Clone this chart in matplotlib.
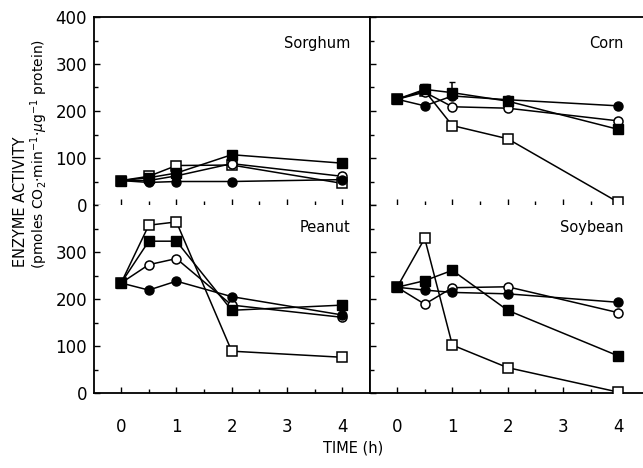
import matplotlib
matplotlib.use("Agg")
import matplotlib.pyplot as plt
from matplotlib.ticker import MultipleLocator

plt.rcParams['font.family'] = ['DejaVu Sans']

time = [0, 0.5, 1, 2, 4]

# Sorghum
sorghum_fc = [52, 48, 50, 50, 54]
sorghum_oc = [52, 52, 62, 88, 61]
sorghum_fs = [52, 58, 68, 107, 89]
sorghum_os = [52, 61, 84, 85, 46]

# Corn
corn_fc = [225, 211, 232, 224, 211]
corn_oc = [225, 240, 209, 206, 179]
corn_fs = [225, 246, 239, 221, 161]
corn_os = [225, 243, 169, 141, 6]
corn_fs_err = [0, 12, 22, 0, 0]

# Peanut
peanut_fc = [234, 219, 238, 205, 166]
peanut_oc = [234, 273, 286, 187, 161]
peanut_fs = [234, 323, 323, 176, 187]
peanut_os = [234, 357, 364, 89, 76]

# Soybean
soy_fc = [225, 219, 214, 211, 193]
soy_oc = [225, 189, 224, 226, 171]
soy_fs = [225, 239, 261, 176, 79]
soy_os = [225, 329, 102, 54, 2]

panels = [
    ("Sorghum", sorghum_fc, sorghum_oc, sorghum_fs, sorghum_os, None),
    ("Corn", corn_fc, corn_oc, corn_fs, corn_os, corn_fs_err),
    ("Peanut", peanut_fc, peanut_oc, peanut_fs, peanut_os, None),
    ("Soybean", soy_fc, soy_oc, soy_fs, soy_os, None),
]

W, H = 643, 468
fig = plt.figure(figsize=(W / 100, H / 100), dpi=100)

def ax_at(x0, y0, x1, y1):
    return fig.add_axes([x0 / W, 1 - y1 / H, (x1 - x0) / W, (y1 - y0) / H])

axes = [
    ax_at(94, 17, 370, 205),
    ax_at(370, 17, 643, 205),
    ax_at(94, 205, 370, 393),
    ax_at(370, 205, 643, 393),
]

for i, (ax, (name, fc, oc, fs, os_, err)) in enumerate(zip(axes, panels)):
    left = i % 2 == 0
    bottom = i >= 2
    ms = 6.5
    lw = 1.1
    ax.plot(time, os_, '-', color='black', lw=lw, marker='s', ms=ms,
            mfc='white', mec='black', mew=1.1, zorder=3)
    ax.plot(time, oc, '-', color='black', lw=lw, marker='o', ms=ms,
            mfc='white', mec='black', mew=1.1, zorder=3)
    ax.plot(time, fc, '-', color='black', lw=lw, marker='o', ms=ms,
            mfc='black', mec='black', zorder=4)
    if err is not None:
        ax.errorbar(time, fs, yerr=[[0] * len(err), err], fmt='-', color='black',
                    lw=lw, marker='s', ms=ms, mfc='black', mec='black',
                    capsize=2.5, elinewidth=1.1, zorder=5)
    else:
        ax.plot(time, fs, '-', color='black', lw=lw, marker='s', ms=ms,
                mfc='black', mec='black', zorder=5)

    ax.set_ylim(0, 400)
    if left:
        ax.set_xlim(-0.49, 4.5)
    else:
        ax.set_xlim(-0.49, 4.45)
    ax.xaxis.set_major_locator(MultipleLocator(1))
    ax.xaxis.set_minor_locator(MultipleLocator(0.5))
    ax.yaxis.set_major_locator(MultipleLocator(100))
    ax.yaxis.set_minor_locator(MultipleLocator(50))
    ax.tick_params(which='both', direction='in', top=False, right=False,
                   width=1.0, labelsize=12)
    ax.tick_params(which='major', length=4)
    ax.tick_params(which='minor', length=3)
    ax.tick_params(axis='x', pad=18)
    for s in ax.spines.values():
        s.set_linewidth(1.3)
    ax.spines['right'].set_visible(left)
    if not bottom:
        ax.tick_params(axis='x', labelbottom=False)
        ax.spines['bottom'].set_visible(False)
    else:
        ax.spines['top'].set_visible(False)
    if left:
        if bottom:
            ax.set_yticks([0, 100, 200, 300])
            ax.yaxis.set_minor_locator(MultipleLocator(50))
        ax.tick_params(axis='y', pad=5)
    else:
        ax.tick_params(axis='y', labelleft=False)
    ax.text(0.93, 0.86 if not bottom else 0.88, name, transform=ax.transAxes,
            ha='right', va='center', fontsize=10.5)

fig.text(21 / W, 1 - 267 / H, "ENZYME ACTIVITY", rotation=90, ha='center',
         va='bottom', fontsize=10.5)
fig.text(39 / W, 1 - 269 / H,
         r"(pmoles CO$_2$$\cdot$min$^{-1}$$\cdot$$\mu$g$^{-1}$ protein)",
         rotation=90, ha='center', va='bottom', fontsize=10)
fig.text(353 / W, 1 - 448 / H, "TIME (h)", ha='center', va='center',
         fontsize=10.5)

fig.savefig("out.png", dpi=100)
